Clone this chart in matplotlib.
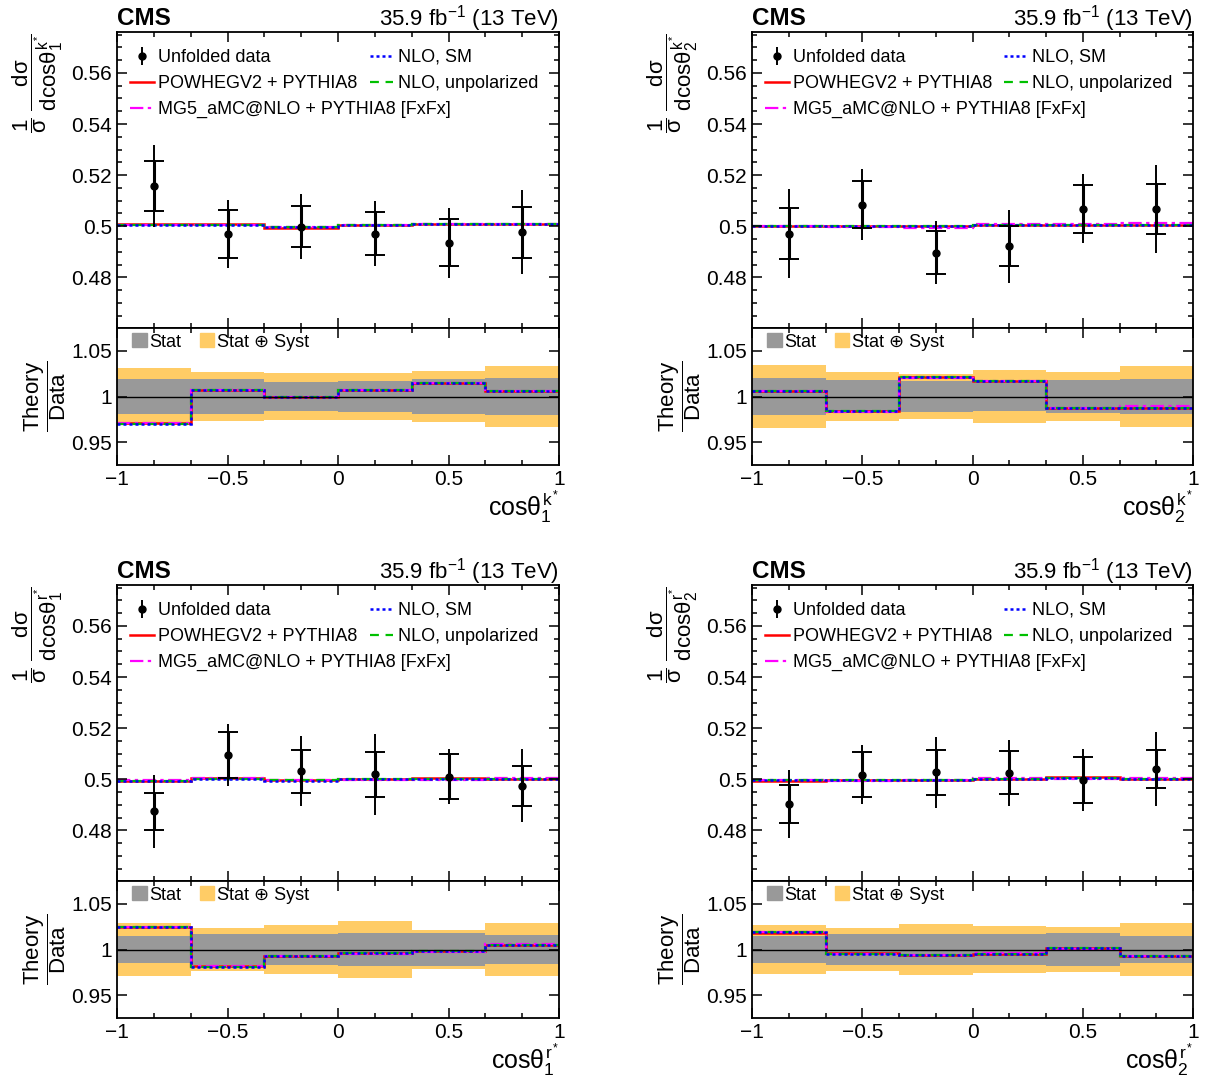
import numpy as np
import matplotlib
matplotlib.use('Agg')
import matplotlib.pyplot as plt
from matplotlib.ticker import MultipleLocator, AutoMinorLocator, NullLocator, FuncFormatter
from matplotlib.patches import Patch

plt.rcParams['font.family'] = ['Liberation Sans', 'DejaVu Sans']
plt.rcParams['mathtext.fontset'] = 'custom'
plt.rcParams['mathtext.rm'] = 'Liberation Sans'
plt.rcParams['mathtext.it'] = 'Liberation Sans'
plt.rcParams['mathtext.bf'] = 'Liberation Sans:bold'

# ---------------- data ----------------
edges = np.linspace(-1, 1, 7)
centers = 0.5 * (edges[1:] + edges[:-1])

# cos theta_1^k*
k1_data = [0.5157, 0.4970, 0.4999, 0.4971, 0.4935, 0.4977]
k1_stat = [0.0098, 0.0093, 0.0080, 0.0084, 0.0092, 0.0100]
k1_tot = [0.0159, 0.0133, 0.0126, 0.0128, 0.0137, 0.0165]
k1_powheg = [0.5010, 0.5007, 0.4995, 0.5004, 0.5009, 0.5007]
k1_mg5 = [0.5005, 0.5006, 0.4998, 0.5006, 0.5010, 0.5008]
k1_nlo_sm = [0.5004, 0.5006, 0.4999, 0.5005, 0.5009, 0.5009]
k1_nlo_unpol = [0.5003, 0.5005, 0.4999, 0.5005, 0.5008, 0.5008]

# cos theta_2^k*
k2_data = [0.4971, 0.5085, 0.4897, 0.4922, 0.5069, 0.5068]
k2_stat = [0.0100, 0.0092, 0.0083, 0.0079, 0.0094, 0.0098]
k2_tot = [0.0173, 0.0138, 0.0122, 0.0143, 0.0136, 0.0172]
k2_powheg = [0.5002, 0.5002, 0.5001, 0.5005, 0.5006, 0.5005]
k2_mg5 = [0.5001, 0.4996, 0.4994, 0.5007, 0.5007, 0.5013]
k2_nlo_sm = [0.5002, 0.5002, 0.5002, 0.5004, 0.5005, 0.5006]
k2_nlo_unpol = [0.5002, 0.5002, 0.5002, 0.5004, 0.5005, 0.5006]

# cos theta_1^r*
r1_data = [0.4874, 0.5095, 0.5032, 0.5019, 0.5010, 0.4974]
r1_stat = [0.0073, 0.0089, 0.0084, 0.0088, 0.0088, 0.0077]
r1_tot = [0.0144, 0.0120, 0.0136, 0.0159, 0.0108, 0.0143]
r1_powheg = [0.4992, 0.5003, 0.4997, 0.5000, 0.5004, 0.5000]
r1_mg5 = [0.4996, 0.5004, 0.4997, 0.4996, 0.4998, 0.5003]
r1_nlo_sm = [0.4994, 0.5000, 0.4995, 0.5002, 0.5001, 0.5000]
r1_nlo_unpol = [0.4995, 0.5000, 0.4996, 0.5001, 0.5001, 0.5000]

# cos theta_2^r*
r2_data = [0.4903, 0.5018, 0.5027, 0.5025, 0.4997, 0.5039]
r2_stat = [0.0075, 0.0087, 0.0087, 0.0084, 0.0090, 0.0075]
r2_tot = [0.0134, 0.0116, 0.0138, 0.0130, 0.0123, 0.0144]
r2_powheg = [0.4994, 0.4997, 0.4996, 0.5001, 0.5007, 0.5002]
r2_mg5 = [0.4999, 0.4993, 0.4997, 0.5004, 0.5002, 0.5003]
r2_nlo_sm = [0.4998, 0.4996, 0.4996, 0.5001, 0.5003, 0.5002]
r2_nlo_unpol = [0.4999, 0.4996, 0.4996, 0.5001, 0.5003, 0.5002]

col_powheg = '#ff0000'
col_mg5 = '#ff00ff'
col_unpol = '#00c000'
col_sm = '#0000ff'
col_stat = '#999999'
col_tot = '#ffcc66'

fmt = FuncFormatter(lambda v, p: ('%g' % round(v, 4)).replace('-', '\u2212'))


def style_axis(ax, ymaj, ymin_div):
    ax.tick_params(direction='in', which='both', top=True, right=True, labelsize=15, width=1.1)
    ax.tick_params(which='major', length=7)
    ax.tick_params(which='minor', length=3.5)
    ax.xaxis.set_major_locator(MultipleLocator(0.5))
    ax.xaxis.set_minor_locator(AutoMinorLocator(3))
    ax.yaxis.set_major_locator(MultipleLocator(ymaj))
    if ymin_div:
        ax.yaxis.set_minor_locator(AutoMinorLocator(ymin_div))
    else:
        ax.yaxis.set_minor_locator(NullLocator())
    ax.xaxis.set_major_formatter(fmt)
    ax.yaxis.set_major_formatter(fmt)
    for s in ax.spines.values():
        s.set_linewidth(1.3)


def draw_panel(ax, rax, data, stat, tot, powheg, mg5, nlo_sm, nlo_unpol, idx, var):
    data = np.array(data)
    stat = np.array(stat)
    tot = np.array(tot)

    # ---- main panel
    h_pw = ax.stairs(powheg, edges, baseline=None, color=col_powheg, lw=1.8, label='POWHEGV2 + PYTHIA8')
    h_mg = ax.stairs(mg5, edges, baseline=None, color=col_mg5, lw=1.6, ls=(0, (6, 2, 1.5, 2)),
                     label='MG5_aMC@NLO + PYTHIA8 [FxFx]')
    h_un = ax.stairs(nlo_unpol, edges, baseline=None, color=col_unpol, lw=1.6, ls=(0, (4, 3)),
                     label='NLO, unpolarized')
    h_sm = ax.stairs(nlo_sm, edges, baseline=None, color=col_sm, lw=1.8, ls=(0, (1.2, 1.2)),
                     label='NLO, SM')
    h_d = ax.errorbar(centers, data, yerr=tot, fmt='o', color='k', ms=5, elinewidth=1.4,
                      label='Unfolded data', zorder=5)
    ax.errorbar(centers, data, yerr=stat, fmt='none', ecolor='k', elinewidth=2.2,
                capsize=7, capthick=1.4, zorder=5)
    ax.set_xlim(-1, 1)
    ax.set_ylim(0.4602, 0.576)
    style_axis(ax, 0.02, 4)
    ax.tick_params(labelbottom=False)

    leg1 = ax.legend(handles=[h_d, h_pw, h_mg], loc='upper left', bbox_to_anchor=(0.03, 0.943),
                     frameon=False, fontsize=13, handlelength=1.3, handletextpad=0.25,
                     labelspacing=0.5, borderpad=0, borderaxespad=0)
    ax.add_artist(leg1)
    ax.legend(handles=[h_sm, h_un], loc='upper left', bbox_to_anchor=(0.572, 0.943),
              frameon=False, fontsize=13, handlelength=1.3, handletextpad=0.25,
              labelspacing=0.5, borderpad=0, borderaxespad=0)

    ax.text(0.0, 1.022, 'CMS', transform=ax.transAxes, fontsize=17.5, fontweight='bold',
            va='baseline', ha='left')
    ax.text(1.0, 1.022, r'35.9 fb$^{-1}$ (13 TeV)', transform=ax.transAxes, fontsize=16,
            va='baseline', ha='right')

    ax.set_ylabel(r'$\dfrac{1}{\sigma}\ \dfrac{d\sigma}{d\mathrm{cos}\theta_{%s}^{%s^{*}}}$' % (idx, var),
                  fontsize=16, loc='top')
    ax.yaxis.set_label_coords(-0.118, 0.995)

    # ---- ratio panel
    rax.stairs(1 + tot / data, edges, baseline=1 - tot / data, fill=True, color=col_tot, lw=0)
    rax.stairs(1 + stat / data, edges, baseline=1 - stat / data, fill=True, color=col_stat, lw=0)
    rax.axhline(1, color='k', lw=1)
    rax.stairs(np.array(powheg) / data, edges, baseline=None, color=col_powheg, lw=1.8)
    rax.stairs(np.array(mg5) / data, edges, baseline=None, color=col_mg5, lw=1.6, ls=(0, (6, 2, 1.5, 2)))
    rax.stairs(np.array(nlo_unpol) / data, edges, baseline=None, color=col_unpol, lw=1.6, ls=(0, (4, 3)))
    rax.stairs(np.array(nlo_sm) / data, edges, baseline=None, color=col_sm, lw=1.8, ls=(0, (1.2, 1.2)))
    rax.set_xlim(-1, 1)
    rax.set_ylim(0.925, 1.075)
    style_axis(rax, 0.05, 0)

    rax.legend(handles=[Patch(color=col_stat, label='Stat'),
                        Patch(color=col_tot, label='Stat \u2295 Syst')],
               loc='upper left', bbox_to_anchor=(0.035, 0.96), ncol=2, frameon=False,
               fontsize=13, handlelength=0.8, handleheight=0.8, handletextpad=0.15,
               columnspacing=1.0, borderpad=0, borderaxespad=0)

    rax.set_ylabel(r'$\dfrac{\mathrm{Theory}}{\mathrm{Data}}$', fontsize=16)
    rax.yaxis.set_label_coords(-0.111, 0.5)
    rax.set_xlabel(r'$\mathrm{cos}\theta_{%s}^{%s^{*}}$' % (idx, var), fontsize=18, loc='right')
    rax.xaxis.set_label_coords(1.0, -0.17)


fig = plt.figure(figsize=(12.1, 10.84), dpi=100)

W, H = 1210.0, 1084.0
lefts = [117, 752]
widths = [442, 441]
tops = [32, 585]
main_h = 296
ratio_h = 137

panels = [
    (k1_data, k1_stat, k1_tot, k1_powheg, k1_mg5, k1_nlo_sm, k1_nlo_unpol, '1', 'k'),
    (k2_data, k2_stat, k2_tot, k2_powheg, k2_mg5, k2_nlo_sm, k2_nlo_unpol, '2', 'k'),
    (r1_data, r1_stat, r1_tot, r1_powheg, r1_mg5, r1_nlo_sm, r1_nlo_unpol, '1', 'r'),
    (r2_data, r2_stat, r2_tot, r2_powheg, r2_mg5, r2_nlo_sm, r2_nlo_unpol, '2', 'r'),
]

for i, p in enumerate(panels):
    row, col = divmod(i, 2)
    x0 = lefts[col] / W
    w = widths[col] / W
    top = tops[row]
    ax = fig.add_axes([x0, 1 - (top + main_h) / H, w, main_h / H])
    rax = fig.add_axes([x0, 1 - (top + main_h + ratio_h) / H, w, ratio_h / H])
    draw_panel(ax, rax, *p)

fig.savefig('out.png', dpi=100)
